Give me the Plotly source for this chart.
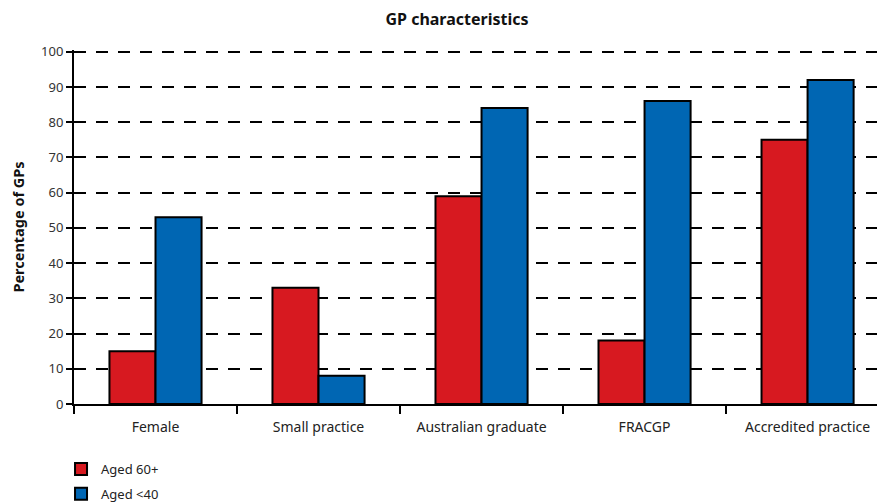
import plotly.graph_objects as go

categories = ["Female", "Small practice", "Australian graduate", "FRACGP", "Accredited practice"]
aged_60_plus = [15, 33, 59, 18, 75]
aged_under_40 = [53, 8, 84, 86, 92]
y_ticks = [0, 10, 20, 30, 40, 50, 60, 70, 80, 90, 100]

FONT = "Noto Sans, Open Sans, sans-serif"
W, H = 877, 495  # page body has an 8px margin

fig = go.Figure()
fig.add_trace(go.Bar(
    x=categories, y=aged_60_plus, name="Aged 60+",
    marker=dict(color="#D71920", line=dict(color="black", width=2)),
    legendgroup="a",
))
fig.add_trace(go.Bar(
    x=categories, y=aged_under_40, name="Aged <40",
    marker=dict(color="#0066B3", line=dict(color="black", width=2)),
    legendgroup="b",
))

fig.update_layout(
    width=W, height=H,
    margin=dict(l=66, r=0, t=42, b=99, autoexpand=False),
    paper_bgcolor="white", plot_bgcolor="white",
    barmode="group", bargap=0.435, bargroupgap=0,
    font=dict(family=FONT, size=13, color="#222222"),
    title=dict(text="<b>GP characteristics</b>", x=449 / W, xanchor="center",
               y=1 - 11 / H, yanchor="middle", font=dict(size=16, color="#111111")),
    showlegend=True,
    legend=dict(x=-0.016, xanchor="left", yref="container", y=1 - 446 / H, yanchor="top",
                orientation="v", traceorder="grouped", tracegroupgap=5,
                font=dict(size=13, color="#222222"), bgcolor="rgba(0,0,0,0)"),
    xaxis=dict(
        type="category", range=[-0.5, 4.475], automargin=False,
        showline=True, linecolor="black", linewidth=2,
        ticks="outside", tickson="boundaries", ticklen=8, tickwidth=2, tickcolor="black",
        ticklabelstandoff=9,
        showgrid=False, tickfont=dict(size=14, color="#222222"),
    ),
    yaxis=dict(
        range=[0, 100.5], tickvals=y_ticks, automargin=False,
        showline=True, linecolor="black", linewidth=2,
        ticks="outside", ticklen=6, tickwidth=2, tickcolor="black",
        showgrid=True, gridcolor="black", gridwidth=2, griddash="12px,10px",
        zeroline=False,
        tickfont=dict(size=13, color="#333333"),
        title=dict(text="<b>Percentage of GPs</b>", font=dict(size=14.5, color="#111111"), standoff=22),
    ),
)

fig.write_html("out.html")
